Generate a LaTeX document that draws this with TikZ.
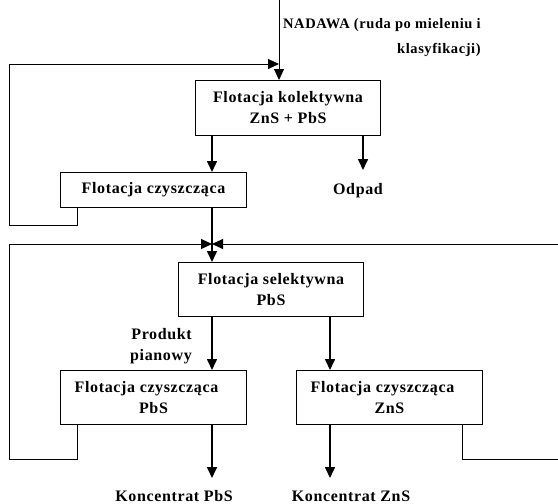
\documentclass[tikz,border=0pt]{standalone}
\usepackage{fontspec}
\setmainfont{Liberation Serif}[LetterSpace=4]
\usetikzlibrary{arrows.meta}
\begin{document}
\begin{tikzpicture}[x=1pt,y=-1pt,
  box/.style={draw,line width=1pt,inner sep=0pt,anchor=north west},
  lbl/.style={font=\bfseries\fontsize{16}{21}\selectfont,inner sep=0pt},
  flow/.style={line width=1.6pt,-{Triangle[length=11pt,width=10pt]}},
  thin/.style={line width=1pt},
  tip/.style={line width=1pt,-{Triangle[length=11pt,width=10pt]}}]
\useasboundingbox (0,0) rectangle (558,504);
% boxes
\node[box,minimum width=185pt,minimum height=55pt] (b1) at (195,80) {};
\node[lbl,align=center] at (b1.center) {Flotacja kolektywna\\ZnS + PbS};
\node[box,minimum width=186pt,minimum height=35pt] (b2) at (60,172) {};
\node[lbl] at (b2.center) {Flotacja czyszcząca};
\node[box,minimum width=185pt,minimum height=54pt] (b3) at (178,262) {};
\node[lbl,align=center] at (b3.center) {Flotacja selektywna\\PbS};
\node[box,minimum width=186pt,minimum height=54pt] (b4) at (60,370) {};
\node[lbl,align=center] at ([xshift=-7pt]b4.center) {Flotacja czyszcząca\\\hspace*{14pt}PbS};
\node[box,minimum width=186pt,minimum height=54pt] (b5) at (296,370) {};
\node[lbl,align=center] at ([xshift=-7pt]b5.center) {Flotacja czyszcząca\\\hspace*{14pt}ZnS};
% labels
\node[lbl,font=\bfseries\fontsize{14.5}{25}\selectfont,align=right,anchor=north west] (nad) at (283,18) {NADAWA (ruda po mieleniu i\\klasyfikacji)};
\node[lbl] (odp) at (358,191) {Odpad};
\node[lbl,align=right,anchor=east] (prod) at (192,346) {Produkt\\pianowy};
\node[lbl] (kpb) at (174,496) {Koncentrat PbS};
\node[lbl] (kzn) at (351,496) {Koncentrat ZnS};
% coordinates
\coordinate (in0) at (279,0);
\coordinate (in1) at (279,80);
\coordinate (fb1) at (9,64);
\coordinate (c1) at (212,244);
\coordinate (o1) at (363,170);
\coordinate (k1) at (212,478);
\coordinate (k2) at (330,478);
% input
\draw[tip] (in0) -- (in1);
% feedback 1
\draw[thin] (77,207) -- (77,225) -- (9,225) -- (fb1);
\draw[tip] (fb1) -- (279,64);
% from box1
\draw[flow] (212,135) -- (212,172);
\draw[flow] (363,135) -- (o1);
% box2 to box3
\draw[flow] (212,207) -- (212,262);
% feedbacks 2
\draw[thin] (77,424) -- (77,459) -- (9,459) -- (9,244);
\draw[tip] (9,244) -- (c1);
\draw[thin] (462,424) -- (462,459) -- (558,459);
\draw[tip] (558,244) -- (c1);
% box3 to 4,5
\draw[flow] (212,316) -- (212,370);
\draw[flow] (330,316) -- (330,370);
% outputs
\draw[flow] (212,424) -- (k1);
\draw[flow] (330,424) -- (k2);
\end{tikzpicture}
\end{document}
